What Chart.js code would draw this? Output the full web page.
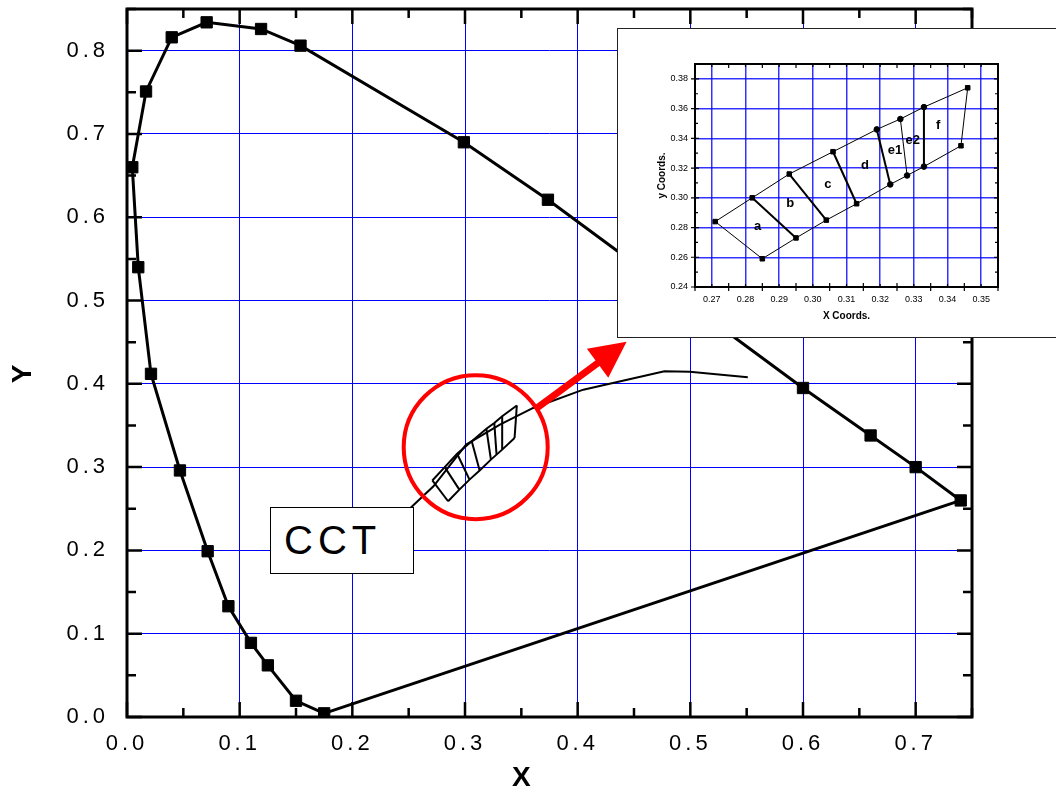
<!DOCTYPE html>
<html>
<head>
<meta charset="utf-8">
<title>CIE chromaticity with CCT bins</title>
<script src="https://cdn.jsdelivr.net/npm/chart.js@4/dist/chart.umd.min.js"></script>
<style>
  html, body { margin: 0; padding: 0; background: #fff; overflow: hidden; }
  #wrap { position: relative; width: 1056px; height: 793px; }
  #cct {
    position: absolute; left: 270px; top: 507px; width: 144px; height: 67px;
    box-sizing: border-box; border: 1px solid #000; background: #fff;
    font: 40px "Liberation Sans", Arial, sans-serif; letter-spacing: 5px;
    line-height: 65px; padding-left: 13px; color: #000;
  }
  #inset {
    position: absolute; left: 617px; top: 28px; width: 443px; height: 308px;
    border: 1px solid #222; background: #fff;
  }
</style>
</head>
<body>
<div id="wrap">
  <canvas id="mainChart" width="1056" height="793"></canvas>
  <div id="cct">CCT</div>
  <div id="inset"><canvas id="insetChart" width="443" height="308"></canvas></div>
</div>
<script>
// spectral locus (x, y)
var locusX = [0.175, 0.150, 0.125, 0.110, 0.090, 0.0716, 0.047, 0.0213, 0.010, 0.0047, 0.0169, 0.0397, 0.0707, 0.119, 0.154, 0.299, 0.3736, 0.600, 0.660, 0.700, 0.740];
var locusY = [0.0044, 0.0195, 0.062, 0.089, 0.133, 0.199, 0.296, 0.412, 0.540, 0.660, 0.751, 0.816, 0.834, 0.826, 0.806, 0.690, 0.621, 0.395, 0.338, 0.300, 0.260];

// line of purples
var purpleX = [0.740, 0.175];
var purpleY = [0.260, 0.0044];

// CCT curve
var cctX = [0.252, 0.272, 0.301, 0.331, 0.3605, 0.405, 0.477, 0.4995, 0.551];
var cctY = [0.2515, 0.277, 0.327, 0.351, 0.371, 0.393, 0.415, 0.4145, 0.408];

// bin corners
var binUpperX = [0.271, 0.282, 0.293, 0.306, 0.319, 0.326, 0.333, 0.346];
var binUpperY = [0.284, 0.300, 0.316, 0.331, 0.346, 0.353, 0.361, 0.374];
var binLowerX = [0.285, 0.295, 0.304, 0.313, 0.323, 0.328, 0.333, 0.344];
var binLowerY = [0.259, 0.273, 0.285, 0.296, 0.309, 0.315, 0.321, 0.335];
var binNames = ["a", "b", "c", "d", "e1", "e2", "f"];
var binLabelX = [0.2836, 0.2933, 0.3045, 0.3155, 0.3244, 0.3297, 0.3372];
var binLabelY = [0.2807, 0.2964, 0.3088, 0.3216, 0.3317, 0.3389, 0.3486];

// ticks
var mainXTicks = [0.0, 0.1, 0.2, 0.3, 0.4, 0.5, 0.6, 0.7];
var mainYTicks = [0.0, 0.1, 0.2, 0.3, 0.4, 0.5, 0.6, 0.7, 0.8];
var insetXTicks = [0.27, 0.28, 0.29, 0.30, 0.31, 0.32, 0.33, 0.34, 0.35];
var insetYTicks = [0.24, 0.26, 0.28, 0.30, 0.32, 0.34, 0.36, 0.38];

var FONT = "'Liberation Sans', Arial, sans-serif";

function xy(xs, ys) {
  return xs.map(function (x, i) { return { x: x, y: ys[i] }; });
}

function lineSet(xs, ys, width, extra) {
  var ds = {
    data: xy(xs, ys),
    showLine: true,
    borderColor: "#000",
    backgroundColor: "#000",
    borderWidth: width,
    pointRadius: 0,
  };
  return Object.assign(ds, extra || {});
}

function dividerSets(width, widths) {
  return binUpperX.map(function (x, i) {
    return lineSet([x, binLowerX[i]], [binUpperY[i], binLowerY[i]], widths ? widths[i] : width);
  });
}

function noPad(s) {
  s.paddingTop = 0; s.paddingBottom = 0; s.paddingLeft = 0; s.paddingRight = 0;
}

// inward ticks + frame, Origin style
var frameTicks = {
  id: "frameTicks",
  afterDatasetsDraw: function (chart, args, o) {
    var ctx = chart.ctx, a = chart.chartArea, sx = chart.scales.x, sy = chart.scales.y;
    ctx.save();
    ctx.strokeStyle = "#000";
    ctx.lineWidth = o.tickWidth;
    ctx.beginPath();
    var n = Math.round((sx.max - sx.min) / o.xStep);
    for (var i = 0; i <= n + 1; i++) {
      var v = o.xStart + i * o.xStep;
      if (v > sx.max + 1e-9) break;
      var px = sx.getPixelForValue(v);
      var major = i % 2 === 0;
      var up = major ? o.majorIn : o.minorIn;
      ctx.moveTo(px, a.bottom + (major ? o.majorOut : 0)); ctx.lineTo(px, a.bottom - up);
      ctx.moveTo(px, a.top); ctx.lineTo(px, a.top + up);
    }
    n = Math.round((sy.max - sy.min) / o.yStep);
    for (var j = 0; j <= n + 1; j++) {
      var w = o.yStart + j * o.yStep;
      if (w > sy.max + 1e-9) break;
      var py = sy.getPixelForValue(w);
      var maj = j % 2 === 0;
      var len = maj ? o.majorIn : o.minorIn;
      ctx.moveTo(a.left - (maj ? o.majorOut : 0), py); ctx.lineTo(a.left + len, py);
      ctx.moveTo(a.right, py); ctx.lineTo(a.right - len, py);
    }
    ctx.stroke();
    ctx.lineWidth = o.frameWidth;
    ctx.strokeRect(a.left, a.top, a.right - a.left, a.bottom - a.top);
    ctx.restore();
  }
};

// axis titles placed at data positions
var axisTitles = {
  id: "axisTitles",
  afterDraw: function (chart, args, o) {
    var ctx = chart.ctx, sx = chart.scales.x, sy = chart.scales.y;
    ctx.save();
    ctx.letterSpacing = "0px";
    ctx.fillStyle = "#000";
    ctx.font = "bold 28px " + FONT;
    ctx.textAlign = "center";
    ctx.textBaseline = "middle";
    ctx.fillText(o.xText, sx.getPixelForValue(o.xAt), o.xLine);
    ctx.translate(o.yLine, sy.getPixelForValue(o.yAt));
    ctx.rotate(-Math.PI / 2);
    ctx.fillText(o.yText, 0, 0);
    ctx.restore();
  }
};

var spacing = {
  id: "spacing",
  beforeDraw: function (chart, args, o) { chart.ctx.letterSpacing = o.value; }
};

// red circle and arrow pointing at the inset
var callout = {
  id: "callout",
  afterDatasetsDraw: function (chart, args, o) {
    var ctx = chart.ctx, sx = chart.scales.x, sy = chart.scales.y;
    ctx.save();
    ctx.strokeStyle = "#ff0000";
    ctx.fillStyle = "#ff0000";
    ctx.lineWidth = 4;
    ctx.beginPath();
    ctx.arc(sx.getPixelForValue(o.circle[0]), sy.getPixelForValue(o.circle[1]), o.radius, 0, Math.PI * 2);
    ctx.stroke();
    var x0 = sx.getPixelForValue(o.from[0]), y0 = sy.getPixelForValue(o.from[1]);
    var x1 = sx.getPixelForValue(o.to[0]), y1 = sy.getPixelForValue(o.to[1]);
    var dx = x1 - x0, dy = y1 - y0, d = Math.sqrt(dx * dx + dy * dy);
    var ux = dx / d, uy = dy / d;
    var bx = x1 - ux * 36, by = y1 - uy * 36;
    ctx.lineWidth = 7;
    ctx.beginPath();
    ctx.moveTo(x0, y0); ctx.lineTo(bx + ux * 2, by + uy * 2);
    ctx.stroke();
    ctx.beginPath();
    ctx.moveTo(x1, y1);
    ctx.lineTo(bx - uy * 18, by + ux * 18);
    ctx.lineTo(bx + uy * 18, by - ux * 18);
    ctx.closePath();
    ctx.fill();
    ctx.restore();
  }
};

var binLabels = {
  id: "binLabels",
  afterDatasetsDraw: function (chart) {
    var ctx = chart.ctx, sx = chart.scales.x, sy = chart.scales.y;
    ctx.save();
    ctx.fillStyle = "#000";
    ctx.font = "bold 13px " + FONT;
    ctx.textAlign = "center";
    ctx.textBaseline = "middle";
    binNames.forEach(function (t, i) {
      ctx.fillText(t, sx.getPixelForValue(binLabelX[i]), sy.getPixelForValue(binLabelY[i]));
    });
    ctx.restore();
  }
};

var mainDatasets = [
  lineSet(locusX, locusY, 3, { pointStyle: "rect", pointRadius: 8, pointBorderWidth: 1 }),
  lineSet(purpleX, purpleY, 3),
  lineSet(cctX, cctY, 2),
  lineSet(binUpperX, binUpperY, 2),
  lineSet(binLowerX, binLowerY, 2),
].concat(dividerSets(2));

new Chart(document.getElementById("mainChart"), {
  type: "scatter",
  data: { datasets: mainDatasets },
  options: {
    responsive: false,
    animation: false,
    events: [],
    layout: { padding: { top: 5, right: 84, left: 0, bottom: 0 } },
    plugins: {
      legend: { display: false },
      tooltip: { enabled: false },
      spacing: { value: "4px" },
      frameTicks: { xStart: 0, xStep: 0.05, yStart: 0, yStep: 0.05, majorIn: 15, minorIn: 9, majorOut: 0, tickWidth: 2.5, frameWidth: 3 },
      callout: { circle: [0.3095, 0.324], radius: 72, from: [0.3635, 0.3707], to: [0.4434, 0.4504] },
      axisTitles: { xText: "X", xAt: 0.35, xLine: 778, yText: "Y", yAt: 0.412, yLine: 23 },
    },
    scales: {
      x: {
        type: "linear", min: 0, max: 0.75,
        afterBuildTicks: function (s) { s.ticks = mainXTicks.map(function (v) { return { value: v }; }); },
        afterFit: function (s) { s.height = 76; noPad(s); },
        ticks: { padding: 14, color: "#000", font: { family: FONT, size: 22 }, callback: function (v) { return v.toFixed(1); } },
        grid: { color: "#0000ff", lineWidth: 1, drawTicks: false },
        border: { display: false },
      },
      y: {
        type: "linear", min: 0, max: 0.85,
        afterBuildTicks: function (s) { s.ticks = mainYTicks.map(function (v) { return { value: v }; }); },
        afterFit: function (s) { s.width = 127; noPad(s); },
        ticks: { padding: 18, color: "#000", font: { family: FONT, size: 22 }, callback: function (v) { return v.toFixed(1); } },
        grid: { color: "#0000ff", lineWidth: 1, drawTicks: false },
        border: { display: false },
      },
    },
  },
  plugins: [spacing, frameTicks, callout, axisTitles],
});

// inset: bins a..f
var insetStyles = binUpperX.map(function (x, i) { return i >= 4 && i <= 6 ? "circle" : "rect"; });
var insetRadii = binUpperX.map(function (x, i) { return i >= 4 && i <= 6 ? 2.8 : 3.2; });
var insetDatasets = [
  lineSet(binUpperX, binUpperY, 1, { pointStyle: insetStyles, pointRadius: insetRadii, pointBorderWidth: 1 }),
  lineSet(binLowerX, binLowerY, 1, { pointStyle: insetStyles, pointRadius: insetRadii, pointBorderWidth: 1 }),
].concat(dividerSets(1, [1, 2, 2, 2, 2, 1, 2, 1]));

new Chart(document.getElementById("insetChart"), {
  type: "scatter",
  data: { datasets: insetDatasets },
  options: {
    responsive: false,
    animation: false,
    events: [],
    layout: { padding: { top: 35, right: 63, left: 0, bottom: 0 } },
    plugins: {
      legend: { display: false },
      tooltip: { enabled: false },
      frameTicks: { xStart: 0.265, xStep: 0.005, yStart: 0.24, yStep: 0.01, majorIn: 4, minorIn: 3, majorOut: 4, tickWidth: 1.2, frameWidth: 2 },
    },
    scales: {
      x: {
        type: "linear", min: 0.265, max: 0.355,
        afterBuildTicks: function (s) { s.ticks = insetXTicks.map(function (v) { return { value: v }; }); },
        afterFit: function (s) { s.height = 50; noPad(s); },
        ticks: { padding: 7, color: "#000", font: { family: FONT, size: 9 }, callback: function (v) { return v.toFixed(2); } },
        grid: { color: "rgba(0,0,255,0.8)", lineWidth: 1.5, drawTicks: false },
        border: { display: false },
        title: { display: true, text: "X Coords.", color: "#000", font: { family: FONT, size: 10, weight: "bold", lineHeight: 1.2 }, padding: { top: 0, bottom: 15 } },
      },
      y: {
        type: "linear", min: 0.24, max: 0.39,
        afterBuildTicks: function (s) { s.ticks = insetYTicks.map(function (v) { return { value: v }; }); },
        afterFit: function (s) { s.width = 77; noPad(s); },
        ticks: { padding: 7, color: "#000", font: { family: FONT, size: 9 }, callback: function (v) { return v.toFixed(2); } },
        grid: { color: "rgba(0,0,255,0.8)", lineWidth: 1.5, drawTicks: false },
        border: { display: false },
        title: { display: true, text: "y Coords.", color: "#000", font: { family: FONT, size: 10, weight: "bold", lineHeight: 1.2 }, padding: { top: 38, bottom: 0 } },
      },
    },
  },
  plugins: [frameTicks, binLabels],
});
</script>
</body>
</html>
